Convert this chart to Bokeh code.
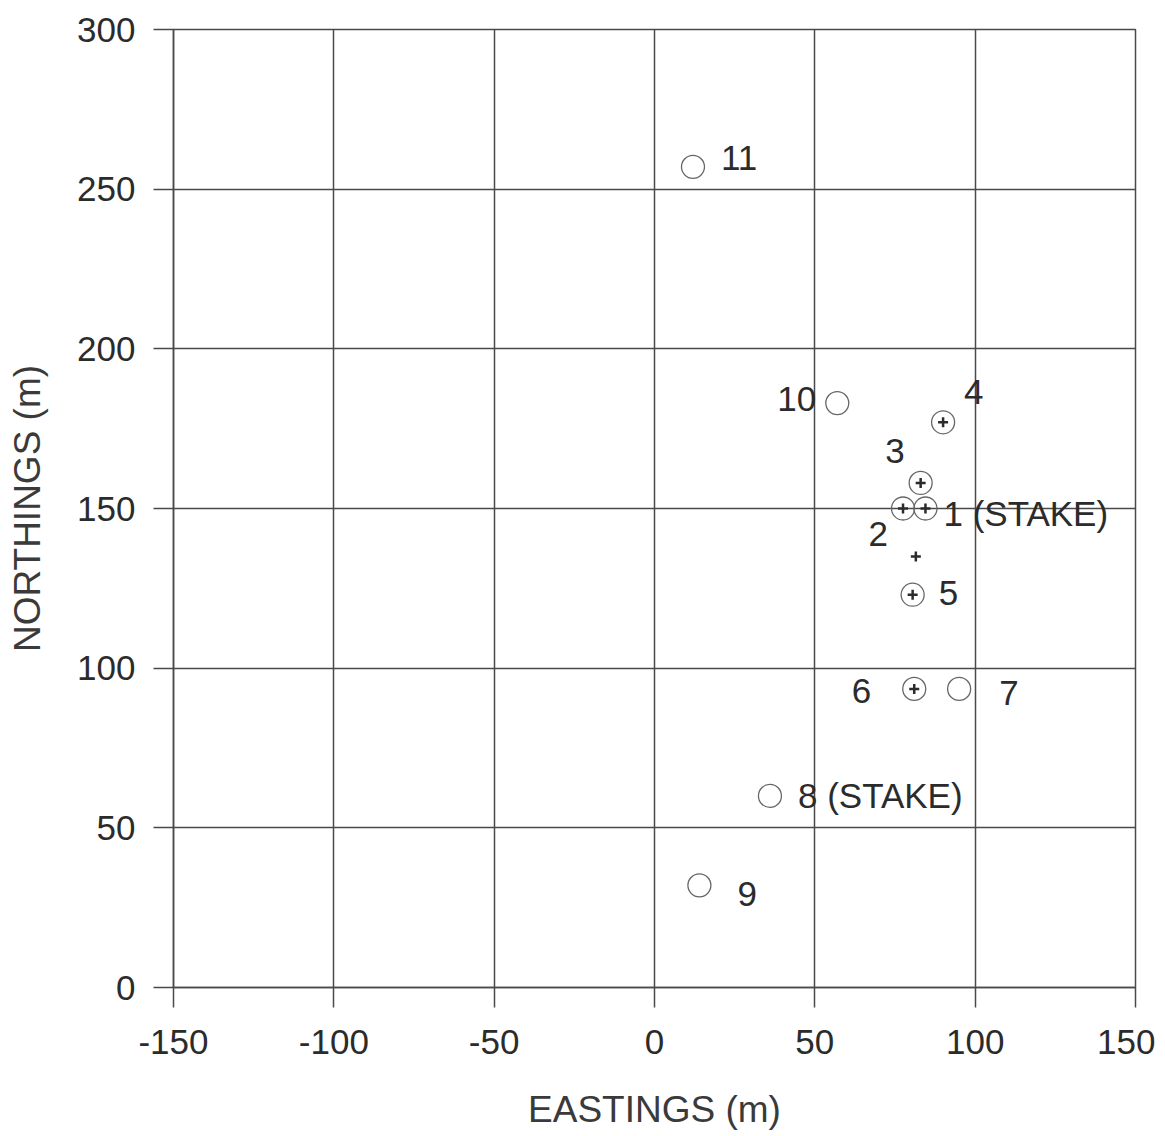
from bokeh.plotting import figure
from bokeh.models import ColumnDataSource, Range1d, FixedTicker
from bokeh.core.properties import value
from bokeh.embed import file_html
from bokeh.resources import INLINE

# Data (metres)
pt_labels = ["1 (STAKE)", "2", "3", "4", "5", "6", "7", "8 (STAKE)", "9", "10", "11"]
pt_east = [84.5, 77.5, 83, 90, 80.5, 81, 95, 36, 14, 57, 12]
pt_north = [150, 150, 158, 177, 123, 93.5, 93.5, 60, 32, 183, 257]
cross_east = [84.5, 77.5, 83, 90, 80.5, 81, 81.5]
cross_north = [150, 150, 158, 177, 123, 93.5, 135]
x_ticks = [-150, -100, -50, 0, 50, 100, 150]
y_ticks = [0, 50, 100, 150, 200, 250, 300]
x_tick_labels = ["-150", "-100", "-50", "0", "50", "100", "150"]
y_tick_labels = ["0", "50", "100", "150", "200", "250", "300"]

# label placement (pixel offsets, style only)
lab_dx = [18, -15, -16, 21, 26, -43, 40, 28, 38, -21, 28]
lab_dy = [5, 25, -32, -30, -2, 2, 4, 0, 9, -4, -9]
lab_align = ["left", "right", "right", "left", "left", "right", "left", "left", "left", "right", "left"]

FONT = "Liberation Sans"
INK = "#2b2b2b"
GRID = "#4a4a4a"

p = figure(width=1155, height=1132, output_backend="svg", toolbar_location=None,
           x_range=Range1d(-150, 150), y_range=Range1d(0, 300),
           min_border_left=173, min_border_right=20, min_border_top=29, min_border_bottom=143)
p.background_fill_color = "white"
p.border_fill_color = "white"
p.outline_line_color = GRID
p.outline_line_width = 1.5

for ax, ticks, labs in ((p.xaxis, x_ticks, x_tick_labels), (p.yaxis, y_ticks, y_tick_labels)):
    ax.ticker = FixedTicker(ticks=ticks)
    ax.major_label_overrides = {t: l for t, l in zip(ticks, labs)}
    ax.axis_line_color = GRID
    ax.axis_line_width = 1.5
    ax.major_tick_line_color = GRID
    ax.major_tick_line_width = 1.5
    ax.major_tick_out = 20
    ax.major_tick_in = 0
    ax.minor_tick_line_color = None
    ax.major_label_text_font = FONT
    ax.major_label_text_font_size = "35px"
    ax.major_label_text_color = INK
    ax.axis_label_text_font = FONT
    ax.axis_label_text_font_size = "37px"
    ax.axis_label_text_color = "#3a3a3a"
    ax.axis_label_text_font_style = "normal"

p.xaxis.axis_label = "EASTINGS (m)"
p.yaxis.axis_label = "NORTHINGS (m)"
p.xaxis.major_label_standoff = 22
p.yaxis.major_label_standoff = 18
p.xaxis.axis_label_standoff = 32
p.yaxis.axis_label_standoff = 26

for g in (p.xgrid, p.ygrid):
    g.grid_line_color = GRID
    g.grid_line_width = 1.5
p.xgrid.ticker = FixedTicker(ticks=x_ticks)
p.ygrid.ticker = FixedTicker(ticks=y_ticks)

p.scatter(pt_east, pt_north, marker="circle", size=23, fill_color=None,
          line_color="#666666", line_width=1.3)
p.scatter(cross_east, cross_north, marker="cross", size=10, line_color=INK, line_width=2.5)

for al in ("left", "right"):
    idx = [i for i, a in enumerate(lab_align) if a == al]
    src = ColumnDataSource(dict(
        x=[pt_east[i] for i in idx], y=[pt_north[i] for i in idx],
        t=[pt_labels[i] for i in idx],
        dx=[lab_dx[i] for i in idx], dy=[lab_dy[i] for i in idx]))
    p.text(x="x", y="y", text="t", x_offset="dx", y_offset="dy", source=src,
           text_align=al, text_baseline="middle", text_font=value(FONT),
           text_font_size="35px", text_color=INK)

open("out.html", "w").write(file_html(p, INLINE))
